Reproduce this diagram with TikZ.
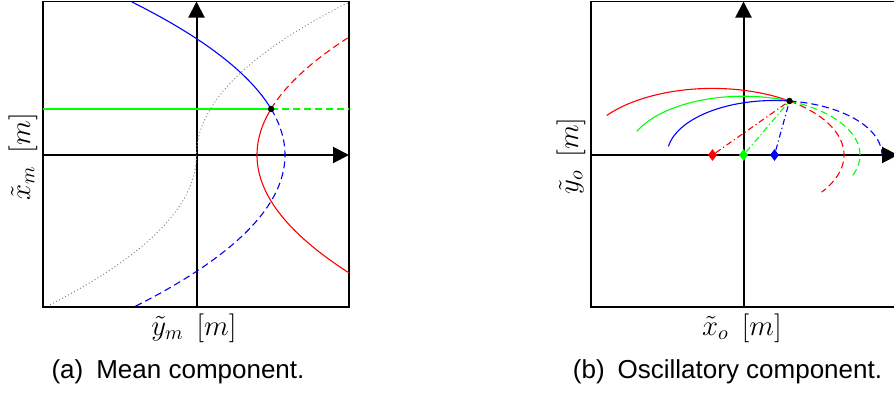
\documentclass[tikz,border=0pt]{standalone}
\usepackage{fontspec}
\newfontfamily\capfont{Liberation Sans}
\usetikzlibrary{arrows.meta,shapes.geometric}

\begin{document}
\begin{tikzpicture}[
  frame/.style={line width=0.8pt, draw=black},
  axis/.style={line width=1pt, -{Triangle[length=8pt,width=8pt]}},
  past/.style={line width=0.55pt},
  future/.style={line width=0.55pt, dash pattern=on 3.5pt off 2pt},
  link/.style={line width=0.55pt, dash pattern=on 3pt off 1.5pt on 0.6pt off 1.5pt},
  locus/.style={line width=0.45pt, draw=black!50, dash pattern=on 0.5pt off 1.2pt},
  hit/.style={circle, fill=black, inner sep=0pt, minimum size=3.2pt},
  ctr/.style={diamond, inner sep=0pt, minimum width=4.6pt, minimum height=6pt},
  axlabel/.style={font=\fontsize{14}{16}\selectfont, anchor=base},
  subcap/.style={font=\capfont\fontsize{13}{15}\selectfont, anchor=base},
  declare function={parB(\t)=285-(\t-155)/153*(\t-155);
                    parR(\t)=257+(\t-155)/151*(\t-155);
                    locus(\t)=196.5+(155-\t)/153*abs(155-\t);},
  x=0.5pt, y=-0.5pt  % pixel grid of the reference, y runs downwards
]

\useasboundingbox (0,0) rectangle (894,396);

% ============ (a) mean component ============
\draw[frame] (43,1.5) rectangle (349,307);
\draw[axis] (43,155) -- (349,155);
\draw[axis] (196.5,307) -- (196.5,1.5);

\coordinate (pL) at (271.1,109);
\draw[locus] plot[domain=3:305, samples=80, smooth] ({locus(\x)},\x);
\draw[past, green] (43,109) -- (pL);
\draw[future, green] (pL) -- (349,109);
\draw[past, blue] plot[domain=109:2, samples=50, smooth] ({parB(\x)},\x);
\draw[future, blue] plot[domain=109:307, samples=60, smooth] ({parB(\x)},\x);
\draw[past, red] plot[domain=109:273, samples=60, smooth] ({parR(\x)},\x);
\draw[future, red] plot[domain=109:38, samples=40, smooth] ({parR(\x)},\x);
\node[hit] (dotL) at (pL) {};

\node[axlabel] (labYm) at (194,335) {$\tilde{y}_m\hspace{.45em}[m]$};
\node[axlabel, rotate=90] (labXm) at (30,156.5) {$\tilde{x}_m\hspace{.45em}[m]$};
\node[subcap] (capA) at (178,378) {(a)\enspace Mean component.};

% ============ (b) oscillatory component ============
\begin{scope}[shift={(547,0)}]  % same axes, one panel to the right
  \draw[frame] (44,1.5) rectangle (351,307);
  \draw[axis] (44,155) -- (351,155);
  \draw[axis] (196.5,307) -- (196.5,1.5);

  % ellipses round each centre, all through the same point
  \draw[past, red] plot[domain=54.15:143.6, samples=50, smooth] ({165.5+131.5*cos(\x)},{155-66.6*sin(\x)});
  \draw[future, red] plot[domain=54.15:-33.9, samples=50, smooth] ({165.5+131.5*cos(\x)},{155-66.6*sin(\x)});
  \draw[past, green] plot[domain=66.75:156.4, samples=50, smooth] ({196.5+116.5*cos(\x)},{155-58.77*sin(\x)});
  \draw[future, green] plot[domain=66.75:-21.8, samples=50, smooth] ({196.5+116.5*cos(\x)},{155-58.77*sin(\x)});
  \draw[past, blue] plot[domain=81.97:171, samples=50, smooth] ({227.5+107.4*cos(\x)},{155-54.53*sin(\x)});
  \draw[future, blue] plot[domain=81.97:0, samples=50, smooth] ({227.5+107.4*cos(\x)},{155-54.53*sin(\x)});

  \node[ctr, fill=red] (cR) at (165.5,155) {};
  \node[ctr, fill=green] (cG) at (196.5,155) {};
  \node[ctr, fill=blue] (cB) at (227.5,155) {};
  \node[hit] (dotR) at (242.5,101) {};
  \draw[link, red] (cR) -- (dotR);
  \draw[link, green] (cG) -- (dotR);
  \draw[link, blue] (cB) -- (dotR);

  \node[axlabel] (labXo) at (195,335) {$\tilde{x}_o\hspace{.45em}[m]$};
  \node[axlabel, rotate=90] (labYo) at (31,156) {$\tilde{y}_o\hspace{.45em}[m]$};
  \node[subcap] (capB) at (180.5,378) {(b)\enspace Oscillatory component.};
\end{scope}

\end{tikzpicture}
\end{document}
